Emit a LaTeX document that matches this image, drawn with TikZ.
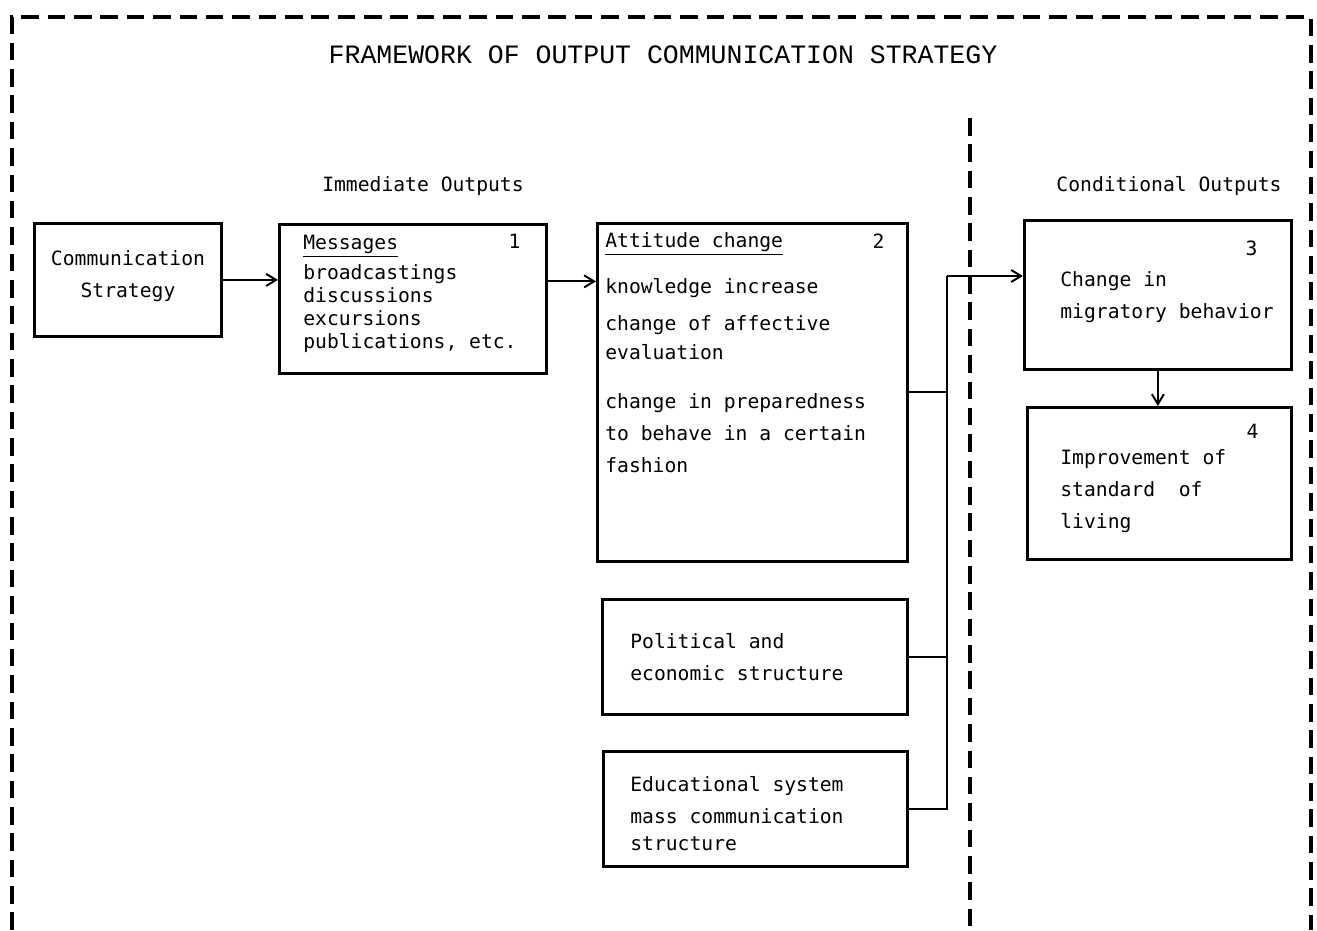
\documentclass[tikz,border=0pt]{standalone}
\usepackage{fontspec}
\newfontfamily\typefont{DejaVu Sans Mono}
\newfontfamily\titlefont{Liberation Mono}
\usetikzlibrary{arrows.meta, positioning}

\begin{document}
\begin{tikzpicture}[
        x=0.02cm, y=-0.02cm,
        dashframe/.style={line width=1.8pt, dash pattern=on 10pt off 5pt},
        box/.style={draw, line width=1.6pt, anchor=north west, inner sep=0pt},
        txt/.style={font=\typefont\fontsize{11.2}{18.1}\selectfont, align=left, inner sep=0pt, anchor=base west},
        link/.style={line width=1.1pt},
        arr/.style={link, -{Straight Barb[length=2mm, width=2.4mm]}}
    ]
    \useasboundingbox (0,0) rectangle (1317,930);

    % outer frame and divider
    \draw[dashframe] (12,930) -- (12,17) -- (1311,17) -- (1311,930);
    \draw[dashframe] (970,118) -- (970,930);

    \node[font=\titlefont\fontsize{15.1}{18}\selectfont, anchor=base] (title) at (663,63) {FRAMEWORK OF OUTPUT COMMUNICATION STRATEGY};
    \node[txt, anchor=base] (immed) at (423,191) {Immediate Outputs};
    \node[txt, anchor=base] (condit) at (1169,191) {Conditional Outputs};

    % immediate outputs (text nodes sit on their last baseline)
    \node[box, minimum width=3.74cm, minimum height=2.26cm] (strat) at (33,222) {};
    \node[txt, align=center, anchor=base] (strattxt) at ([shift={(95,75)}]strat.north west) {Communication\\Strategy};

    \node[box, minimum width=5.34cm, minimum height=2.98cm] (msg) at (278,223) {};
    \node[txt, font=\typefont\fontsize{11.2}{13}\selectfont] (msgtxt) at ([shift={(25,125)}]msg.north west) {\underline{Messages}\\[4pt] broadcastings\\discussions\\excursions\\publications, etc.};
    \node[txt, anchor=base east] (msgno) at ([shift={(-27,25)}]msg.north east) {1};

    \node[box, minimum width=6.2cm, minimum height=6.76cm] (att) at (596,222) {};
    \node[txt, font=\typefont\fontsize{11.2}{16.5}\selectfont] (atttxt) at ([shift={(9,250)}]att.north west) {\underline{Attitude change}\\[9.5pt] knowledge increase\\[4.5pt] change of affective\\evaluation\\[11.3pt] change in preparedness\\[1.7pt] to behave in a certain\\[1.7pt] fashion};
    \node[txt, anchor=base east] (attno) at ([shift={(-24,26)}]att.north east) {2};

    \node[box, minimum width=6.1cm, minimum height=2.3cm] (pol) at (601,598) {};
    \node[txt] (poltxt) at ([shift={(29,82)}]pol.north west) {Political and\\economic structure};

    \node[box, minimum width=6.08cm, minimum height=2.3cm] (edu) at (602,750) {};
    \node[txt] (edutxt) at ([shift={(28,100)}]edu.north west) {Educational system\\mass communication\\[-3pt] structure};

    % conditional outputs
    \node[box, minimum width=5.34cm, minimum height=2.98cm] (migr) at (1023,219) {};
    \node[txt, anchor=base east] (migrno) at ([shift={(-35,36)}]migr.north east) {3};
    \node[txt] (migrtxt) at ([shift={(37,99)}]migr.north west) {Change in\\migratory behavior};

    \node[box, minimum width=5.28cm, minimum height=3.04cm] (living) at (1026,406) {};
    \node[txt, anchor=base east] (livingno) at ([shift={(-34,32)}]living.north east) {4};
    \node[txt] (livingtxt) at ([shift={(34,122)}]living.north west) {Improvement of\\standard\ \ of\\living};

    % connectors
    \coordinate (bustop) at (947,276);
    \draw[arr] (strat.east) -- (strat.east -| msg.west);
    \draw[arr] ([yshift=0.35cm]msg.east) -- ([yshift=0.35cm]msg.east -| att.west);
    \draw[link] (att.east) -- (att.east -| bustop);
    \draw[link] (pol.east) -- (pol.east -| bustop);
    \draw[link] (edu.east) -| (bustop);
    \draw[arr] (bustop) -- (bustop -| migr.west);
    \draw[arr] (migr.south) -- (migr.south |- living.north);
\end{tikzpicture}
\end{document}
